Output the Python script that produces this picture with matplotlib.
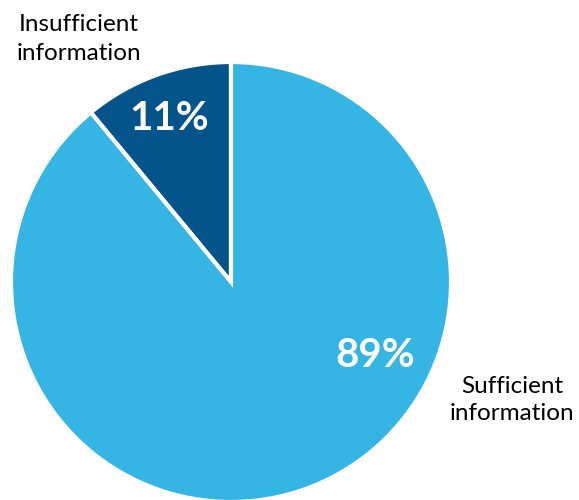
import matplotlib
matplotlib.use('Agg')
import matplotlib.pyplot as plt

labels = ['Insufficient\ninformation', 'Sufficient\ninformation']
shares = [11, 89]
colors = ['#02548B', '#35B5E4']

plt.rcParams['font.family'] = ['Lato', 'DejaVu Sans']

W, H = 579, 500
cx, cy, r = 231, 282, 220   # pie centre / radius in pixels

fig = plt.figure(figsize=(W / 100, H / 100), dpi=100)
ax = fig.add_axes([0, 0, 1, 1])
ax.pie(shares, colors=colors, startangle=90, counterclock=True,
       wedgeprops=dict(edgecolor='white', linewidth=3))
ax.set_xlim(-cx / r, (W - cx) / r)
ax.set_ylim(-(H - cy) / r, cy / r)
ax.set_aspect('equal')
ax.axis('off')

# percent labels
ax.text(169 / W, 1 - 118 / H, f'{shares[0]}%', transform=ax.transAxes,
        ha='center', va='center', color='white', fontsize=29, fontweight='bold')
ax.text(375 / W, 1 - 356 / H, f'{shares[1]}%', transform=ax.transAxes,
        ha='center', va='center', color='white', fontsize=29, fontweight='bold')

# category labels
ax.text(79 / W, 1 - 39 / H, labels[0], transform=ax.transAxes,
        ha='center', va='center', color='black', fontsize=17.5, linespacing=1.5)
ax.text(512 / W, 1 - 400 / H, labels[1], transform=ax.transAxes,
        ha='center', va='center', color='black', fontsize=17.5, linespacing=1.4)

fig.savefig('out.png', dpi=100, facecolor='white')
